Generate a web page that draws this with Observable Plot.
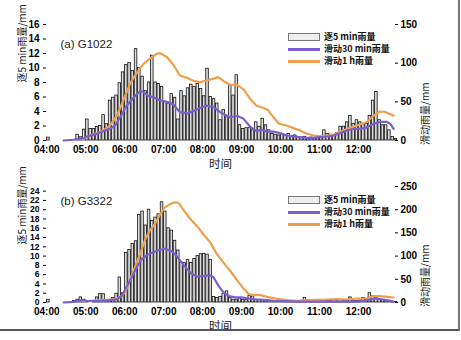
<!DOCTYPE html>
<html><head><meta charset="utf-8">
<script src="https://cdn.jsdelivr.net/npm/d3@7"></script>
<script src="https://cdn.jsdelivr.net/npm/@observablehq/plot@0.6"></script>
<style>
html,body{margin:0;padding:0;background:#fff;}
body{width:461px;height:340px;overflow:hidden;position:relative;font-family:"Liberation Sans",Arial,sans-serif;}
.panel{position:absolute;left:0;width:461px;height:170px;}
.frame{position:absolute;left:0;top:0;width:458px;height:329px;border-right:2px solid #777;border-bottom:2px solid #555;pointer-events:none;}
.lg{position:absolute;left:288px;font:bold 9px "Noto Sans CJK SC",sans-serif;color:#111;}
.lg .row{position:absolute;left:0;height:12px;white-space:nowrap;}
.lg .sw{position:absolute;left:0;width:32px;}
.lg .tx{position:absolute;left:36px;top:-1px;line-height:12px;}
</style>
</head><body>
<div id="top" class="panel" style="top:0"></div>
<div id="bot" class="panel" style="top:170px"></div>
<div class="frame"></div>
<script>
// ---------- data ----------
// 5-min rainfall bars, first bar starts at 04:00, one value per 5 minutes (mm)
const g1022_5min = [
 0.4,0,0,0,0,0,0,0,0,0.8,0.45,1.5,
 2.9,1.6,1.6,1.85,2.0,3.5,2.25,5.5,5.9,6.2,7.9,9.4,
 10.4,10.7,9.6,12.6,10.0,8.8,6.8,8.0,11.7,8.0,7.8,7.4,
 5.3,5.1,6.4,5.9,2.9,6.8,6.1,7.2,7.7,7.4,7.8,7.1,
 6.1,9.9,6.0,5.7,5.1,2.8,4.2,3.2,7.6,6.2,9.0,2.1,
 1.6,1.7,1.7,1.4,2.5,1.9,3.0,2.1,1.4,0.9,0.8,0.7,
 0.9,0.7,0.9,0.6,0.7,0.5,0.4,0.5,0.3,0.4,0.3,0.4,
 0.5,1.4,0.9,0.8,0.7,1.0,1.9,1.9,2.5,3.4,2.3,2.8,
 2.5,2.3,2.3,3.4,5.5,6.7,2.8,2.1,2.1,1.4,0.5,0.2
];
const g3322_5min = [
 0.6,0,0,0,0,0,0,0,0.3,0.6,1.1,0.6,
 0.2,0,0.2,1.1,1.8,1.8,0.4,0.3,1.0,1.9,5.4,2.0,
 10.7,11.3,12.6,13.2,18.9,19.6,16.6,20.0,17.6,18.3,19.0,21.6,
 19.6,16.0,15.5,13.3,11.2,8.6,8.5,9.2,8.5,9.4,10.0,10.4,
 10.5,10.3,9.2,1.2,1.0,1.2,1.8,2.4,1.0,0.6,0.6,0.9,
 0.6,0.5,1.4,1.3,0.6,0.5,0.5,0.3,0.4,0.3,0.3,0.2,
 0.2,0.3,0.2,0.2,0.3,0.2,0.2,1.0,0.3,0.2,0.3,0.2,
 0.3,0.2,0.3,0.3,0.2,0.3,0.2,0.3,0.3,1.1,0.4,0.3,
 0.4,1.0,0.8,2.0,1.3,0.9,0.6,0.5,0.3,0.3,0.2,0.1
];

// sliding sums (right axis, mm)
const g1022_1h_t = ["04:55","05:02","05:17","05:27","05:37","05:48","05:58","06:08","06:19","06:29","06:39","06:49","06:54","07:05","07:15","07:25","07:36","07:46","07:56","08:06","08:17","08:24","08:32","08:42","08:53","09:03","09:13","09:23","09:34","09:41","09:49","09:57","10:10","10:20","10:30","10:40","10:51","11:01","11:11","11:22","11:32","11:42","11:52","12:03","12:13","12:23","12:33","12:41","12:49","12:54"];
const g1022_1h_v = [0.5,5,9.5,13,19,32,52,73,88,99,106,112,113,108,98,84,81,77,75.5,77.6,80,82,77,72,72,66,54,45,42,39,30,22,19,16,13,9,6.5,5.6,6.5,7.8,11,15,18,21,24,32,37.5,37,34,32];
const g1022_30m_t = ["04:26","04:41","04:56","05:07","05:17","05:27","05:37","05:45","05:53","06:03","06:13","06:24","06:29","06:36","06:44","06:54","07:05","07:15","07:25","07:36","07:46","07:56","08:06","08:17","08:27","08:42","08:53","09:03","09:13","09:23","09:31","09:39","09:49","09:59","10:10","10:20","10:30","10:40","10:51","11:01","11:11","11:22","11:32","11:42","11:52","12:03","12:13","12:23","12:33","12:44","12:49","12:54"];
const g1022_30m_v = [0,1,3,6.5,8.6,12,15,19,30,45,55,64,62.5,58,56,52,50,46.5,36.6,35,38,42,45,43,36.6,30,32,28,18,12,14,11.6,11.6,9.5,6.5,5.2,4.3,3.4,3.4,4.3,5.2,6.5,9.5,13,15,15,17,21.5,24,24,21.5,15];

const g3322_1h_t = ["04:54","05:07","05:22","05:37","05:48","05:55","06:01","06:08","06:16","06:24","06:31","06:39","06:47","06:54","07:02","07:10","07:18","07:23","07:30","07:41","07:51","08:01","08:12","08:22","08:32","08:42","08:53","09:03","09:11","09:18","09:29","09:39","09:54","10:10","10:25","10:40","10:56","11:11","11:27","11:42","11:58","12:13","12:23","12:33","12:44","12:54"];
const g3322_1h_v = [3,3.6,5,6.5,8.6,13.6,23,48,77,105.6,134,156,170,189,205,212,216,215,200,180,165,147,129,104,86,69,48,30,18,16,16,12,8,5,3.6,5,5.7,6.5,7.2,6.5,8.6,8.6,13.6,13.6,12,10.8];
const g3322_30m_t = ["04:26","04:41","04:54","05:02","05:22","05:37","05:48","05:55","06:03","06:11","06:19","06:26","06:34","06:42","06:49","07:00","07:05","07:13","07:20","07:28","07:36","07:43","07:51","08:01","08:12","08:17","08:24","08:32","08:40","08:50","09:00","09:11","09:21","09:34","09:49","10:04","10:30","11:00","11:30","12:00","12:18","12:28","12:38","12:49","12:54"];
const g3322_30m_v = [0,1.4,5,3.6,3,5,7,13.6,34,55,77,93,102,107,111,116,115,110,100,86,72,62,56,57,59,54,37,22,14,11,11,8.6,7,5.7,3.6,2.9,2,2,2,2,6.5,8.6,6.5,3.6,1.4];

const hourTicks = [4,5,6,7,8,9,10,11,12];
const hourLabels = ["04:00","05:00","06:00","07:00","08:00","09:00","10:00","11:00","12:00"];

// ---------- helpers ----------
const ORANGE = "#EF9F4C", PURPLE = "#7C5ED4";
const toH = s => { const [h,m] = s.split(":").map(Number); return h + m/60; };
const series = (ts, vs) => ts.map((t,i) => ({t: toH(t), v: vs[i]}));

function panel(el, o) {
  const k = o.leftMax / o.rightMax;
  const bars = o.bars.map((v,i) => ({x1: 4 + i*5/60, x2: 4 + (i+1)*5/60, v}));
  const chart = Plot.plot({
    width: 461, height: 170,
    marginTop: o.mt, marginBottom: o.mb, marginLeft: 43, marginRight: 64,
    style: {fontFamily: "Liberation Sans, Arial, sans-serif", fontSize: "10px", background: "transparent", overflow: "visible"},
    x: {domain: [3 + 55/60, 13]},
    y: {domain: [0, o.leftMax]},
    marks: [
      Plot.rectY(bars, {x1: "x1", x2: "x2", y: "v", fill: "#dcdcdc", stroke: "#111", strokeWidth: 0.8, insetLeft: 0.35, insetRight: 0.35}),
      Plot.line(series(o.h1t, o.h1v), {x: "t", y: d => d.v * k, stroke: ORANGE, strokeWidth: 2.2}),
      Plot.line(series(o.m30t, o.m30v), {x: "t", y: d => d.v * k, stroke: PURPLE, strokeWidth: 2.2}),
      Plot.axisX(hourTicks, {tickFormat: (d,i) => hourLabels[i], tickSize: 0, tickPadding: 5.5, line: true, label: null, fontWeight: "bold", fontSize: 10}),
      Plot.axisY(o.leftTicks, {anchor: "left", tickSize: -3, tickPadding: 7, line: true, label: null, fontWeight: "bold", fontSize: o.leftFont}),
      Plot.axisY(o.rightTicks.map(v => v * k), {anchor: "right", tickFormat: d => String(Math.round(d / k)), tickSize: -3, tickPadding: 6, line: true, label: null, fontWeight: "bold", fontSize: 10}),
      Plot.text([o.tag], {frameAnchor: "top-left", textAnchor: "start", dx: 17, dy: o.tagDy, fontSize: 11.5, fill: "#222"}),
      Plot.text(["逐5 min雨量/mm"], {frameAnchor: "left", rotate: -90, dx: -21, fontSize: 10, fontFamily: "Noto Sans CJK SC", fill: "#222"}),
      Plot.text(["滑动雨量/mm"], {frameAnchor: "right", rotate: -90, dx: 28, fontSize: 10, fontFamily: "Noto Sans CJK SC", fill: "#222"}),
      Plot.text(["时间"], {frameAnchor: "bottom", dy: 27, fontSize: 11.5, fontFamily: "Noto Sans CJK SC", fill: "#222"})
    ]
  });
  el.appendChild(chart);
  // legend
  const lg = document.createElement("div");
  lg.className = "lg";
  lg.style.top = o.legendTop + "px";
  lg.innerHTML =
    `<div class="row" style="top:0"><div class="sw" style="top:1px;height:8px;background:#eee;border:1px solid #777;box-sizing:border-box"></div><div class="tx">逐5 min雨量</div></div>` +
    `<div class="row" style="top:12px"><div class="sw" style="top:4px;height:2.5px;background:${PURPLE}"></div><div class="tx">滑动30 min雨量</div></div>` +
    `<div class="row" style="top:24px"><div class="sw" style="top:4px;height:2.5px;background:${ORANGE}"></div><div class="tx">滑动1 h雨量</div></div>`;
  el.appendChild(lg);
}

panel(document.getElementById("top"), {
  bars: g1022_5min, h1t: g1022_1h_t, h1v: g1022_1h_v, m30t: g1022_30m_t, m30v: g1022_30m_v,
  leftMax: 16, rightMax: 150, leftTicks: [0,2,4,6,8,10,12,14,16], rightTicks: [0,50,100,150], leftFont: 10,
  mt: 24, mb: 30, tag: "(a) G1022", tagDy: 15, legendTop: 32
});
panel(document.getElementById("bot"), {
  bars: g3322_5min, h1t: g3322_1h_t, h1v: g3322_1h_v, m30t: g3322_30m_t, m30v: g3322_30m_v,
  leftMax: 25, rightMax: 250, leftTicks: [0,2,4,6,8,10,12,14,16,18,20,22,24], rightTicks: [0,50,100,150,200,250], leftFont: 8.5,
  mt: 16, mb: 38, tag: "(b) G3322", tagDy: 10, legendTop: 25
});
</script>
</body></html>
